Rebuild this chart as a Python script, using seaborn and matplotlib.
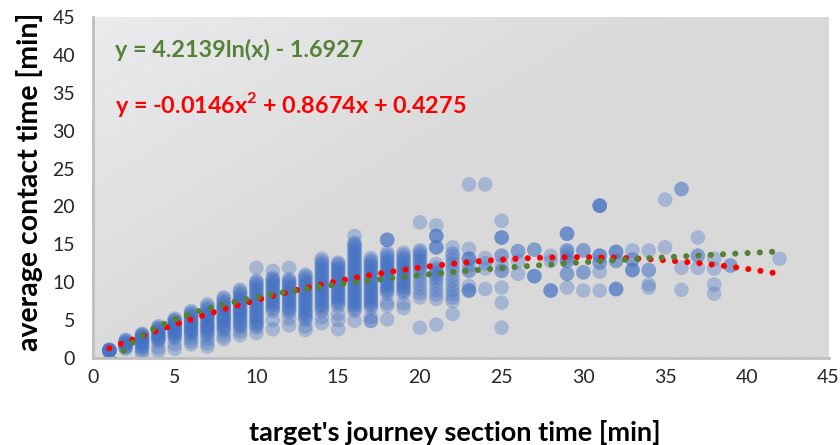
import numpy as np
import pandas as pd
import matplotlib
matplotlib.use("Agg")
import matplotlib.pyplot as plt
import seaborn as sns

# journey section time (x) and the contact times observed at each of them (y)
section_time = list(range(1, 40)) + [42]
contact_time = [
    [0.9, 1.0, 1.0, 1.0, 1.1, 1.1, 1.0, 0.9],
    [1.2, 1.4, 1.6, 1.8, 2.0, 2.2, 2.4, 1.5, 1.9, 2.3, 2.0],
    [0.6, 1.0, 1.3, 1.5, 1.7, 1.9, 2.1, 2.3, 2.5, 2.7, 2.9, 3.1, 3.2, 2.0, 2.6, 3.0],
    [0.9, 1.4, 2.2, 2.4, 2.6, 2.8, 3.0, 3.2, 3.4, 3.6, 3.8, 4.0, 4.2, 2.7, 3.3, 3.9],
    [1.2, 1.8, 2.6, 2.8, 3.0, 3.2, 3.4, 3.6, 3.8, 4.0, 4.2, 4.4, 4.6, 4.8, 5.0, 5.2,
     3.5, 4.3, 4.9],
    [1.8, 2.2, 2.6, 3.0, 3.3, 3.5, 3.8, 4.0, 4.3, 4.5, 4.8, 5.0, 5.3, 5.5, 5.8, 6.0,
     6.2, 3.6, 4.6, 5.6],
    [1.5, 2.0, 2.5, 3.0, 3.3, 3.5, 3.8, 4.0, 4.3, 4.5, 4.8, 5.0, 5.3, 5.5, 5.8, 6.0,
     6.3, 6.5, 6.8, 7.1, 4.2, 5.6],
    [2.5, 2.9, 3.5, 3.8, 4.0, 4.3, 4.5, 4.8, 5.0, 5.3, 5.5, 5.8, 6.0, 6.3, 6.5, 6.8,
     7.0, 7.3, 7.5, 7.8, 8.0, 5.2, 6.6],
    [3.0, 3.5, 4.0, 4.3, 4.5, 4.8, 5.0, 5.3, 5.5, 5.8, 6.0, 6.3, 6.5, 6.8, 7.0, 7.3,
     7.5, 7.8, 8.0, 8.3, 8.5, 8.8, 9.0, 6.2, 7.6],
    [3.3, 4.0, 4.3, 4.5, 4.8, 5.0, 5.3, 5.5, 5.8, 6.0, 6.3, 6.5, 6.8, 7.0, 7.3, 7.5,
     7.8, 8.0, 8.3, 8.5, 8.8, 9.0, 9.3, 9.5, 9.8, 10.0, 10.2, 11.9],
    [3.8, 5.0, 6.2, 6.5, 6.7, 7.0, 7.2, 7.5, 7.7, 8.0, 8.2, 8.5, 8.7, 9.0, 9.2, 9.5,
     9.7, 10.0, 10.2, 10.4, 10.6, 11.5],
    [4.3, 5.2, 6.0, 6.3, 6.5, 6.8, 7.0, 7.3, 7.5, 7.8, 8.0, 8.3, 8.5, 8.8, 9.0, 9.3,
     9.5, 9.8, 10.0, 10.2, 10.4, 11.9],
    [3.7, 4.2, 5.0, 5.3, 5.5, 5.8, 6.0, 6.3, 6.5, 6.8, 7.0, 7.3, 7.5, 7.8, 8.0, 8.3,
     8.5, 8.8, 9.0, 9.3, 9.5, 9.8, 10.0, 10.3, 10.5, 10.8, 11.0],
    [4.6, 5.4, 6.2, 6.5, 6.8, 7.0, 7.3, 7.5, 7.8, 8.0, 8.3, 8.5, 8.8, 9.0, 9.3, 9.5,
     9.8, 10.0, 10.3, 10.5, 10.8, 11.0, 11.3, 11.5, 11.8, 12.0, 12.3, 12.5, 12.8, 13.1],
    [3.8, 5.0, 5.8, 6.9, 7.2, 7.4, 7.7, 7.9, 8.2, 8.4, 8.7, 8.9, 9.2, 9.4, 9.7, 9.9,
     10.2, 10.4, 10.7, 10.9, 11.2, 11.4, 11.7, 11.9, 12.2, 12.4, 12.6],
    [4.9, 6.2, 6.5, 6.8, 7.0, 7.3, 7.5, 7.8, 8.0, 8.3, 8.5, 8.8, 9.0, 9.3, 9.5, 9.8,
     10.0, 10.3, 10.5, 10.8, 11.0, 11.3, 11.5, 11.8, 12.0, 12.3, 12.5, 12.8, 13.0,
     13.3, 13.5, 13.8, 14.0, 14.3, 14.5, 14.8, 15.0, 15.2, 16.1],
    [4.9, 4.9, 5.4, 6.6, 6.9, 7.1, 7.4, 7.6, 7.9, 8.1, 8.4, 8.6, 8.9, 9.1, 9.4, 9.6,
     9.9, 10.1, 10.4, 10.6, 10.9, 11.1, 11.4, 11.6, 11.9, 12.1, 12.4, 12.6, 12.9, 13.2],
    [5.1, 6.9, 7.3, 8.5, 8.8, 9.0, 9.3, 9.5, 9.8, 10.0, 10.3, 10.5, 10.8, 11.0, 11.3,
     11.5, 11.8, 12.0, 12.3, 12.5, 12.8, 13.0, 13.3, 13.6, 13.9, 15.6, 15.6, 15.6],
    [6.6, 7.2, 8.5, 8.8, 9.0, 9.3, 9.5, 9.8, 10.0, 10.3, 10.5, 10.8, 11.0, 11.3, 11.5,
     11.8, 12.0, 12.3, 12.5, 12.8, 13.0, 13.3, 13.6, 13.9],
    [4.0, 8.0, 8.6, 9.2, 9.8, 10.4, 11.0, 11.5, 11.9, 12.2, 12.5, 12.8, 13.1, 13.4,
     13.7, 14.0, 14.2, 17.9],
    [4.4, 7.8, 8.4, 9.0, 9.6, 10.2, 10.6, 11.0, 11.3, 11.6, 11.9, 12.4, 14.6, 14.6,
     14.6, 16.1, 16.1, 16.1, 17.5],
    [5.8, 7.5, 8.0, 8.5, 9.0, 9.6, 10.2, 10.8, 11.5, 12.0, 12.5, 13.0, 13.5, 13.8, 14.6],
    [8.9, 8.9, 8.9, 9.5, 11.5, 11.5, 12.2, 13.1, 13.1, 13.1, 14.4, 22.9],
    [9.1, 11.8, 12.5, 13.2, 22.9],
    [4.0, 7.3, 9.3, 11.5, 11.5, 12.3, 13.5, 13.5, 15.9, 15.9, 15.9, 18.1],
    [11.1, 12.8, 14.1, 14.1],
    [10.8, 10.8, 10.8, 14.3, 14.3],
    [8.9, 8.9, 8.9, 12.8, 13.5],
    [9.3, 11.1, 11.1, 12.8, 12.8, 13.3, 13.8, 14.2, 14.2, 16.4, 16.4, 16.4],
    [8.9, 11.3, 11.3, 14.2, 14.2],
    [8.9, 11.4, 12.6, 12.6, 13.5, 13.5, 13.5, 20.1, 20.1, 20.1, 20.1],
    [9.1, 9.1, 9.1, 12.8, 12.8, 14.0, 14.0, 14.0],
    [11.6, 11.6, 11.6, 13.0, 13.0, 14.2],
    [9.3, 9.7, 11.6, 11.6, 14.2],
    [14.6, 20.9],
    [9.0, 11.9, 22.3, 22.3],
    [11.9, 13.5, 13.5, 15.9],
    [8.5, 9.7, 11.8, 13.1],
    [12.2, 12.2],
    [13.1],
]

# Excel trendline coefficients printed on the chart
log_coef = [4.2139, -1.6927]
poly_coef = [-0.0146, 0.8674, 0.4275]
log_label = "y = 4.2139ln(x) - 1.6927"
poly_label = "y = -0.0146x$^{2}$ + 0.8674x + 0.4275"

df = pd.DataFrame({
    "x": [x for x, ys in zip(section_time, contact_time) for _ in ys],
    "y": [y for ys in contact_time for y in ys],
})

sns.set_theme(style="white")
plt.rcParams["font.family"] = ["Lato", "DejaVu Sans"]
plt.rcParams["mathtext.fontset"] = "custom"
plt.rcParams["mathtext.rm"] = "Lato:bold"

fig = plt.figure(figsize=(8.4, 4.45), dpi=100)
ax = fig.add_axes([0.1107, 0.1955, 0.8757, 0.7663])

# grey gradient plot area, lighter towards the top-left corner
gx, gy = np.meshgrid(np.linspace(0, 1, 200), np.linspace(1, 0, 120))
grad = np.clip(1 - ((gx * 1.2) + (1 - gy) * 0.9), 0, 1)
c0 = np.array([217, 217, 217]) / 255
c1 = np.array([234, 235, 237]) / 255
img = c0 + grad[..., None] * (c1 - c0)
ax.imshow(img, extent=[0, 1, 0, 1], transform=ax.transAxes, aspect="auto", zorder=0)

sns.scatterplot(data=df, x="x", y="y", ax=ax, color="#4472C4", alpha=0.34,
                s=110, edgecolor="none", zorder=2, legend=False)

xs = np.linspace(1, 42, 300)
y_log = log_coef[0] * np.log(xs) + log_coef[1]
y_poly = np.polyval(poly_coef, xs)
sns.lineplot(x=xs, y=y_poly, ax=ax, color="#FF0000", lw=4.4,
             linestyle=(0, (0.01, 2.0)), dash_capstyle="round", zorder=3)
sns.lineplot(x=xs, y=y_log, ax=ax, color="#548235", lw=4.4,
             linestyle=(0, (0.01, 2.0)), dash_capstyle="round", zorder=4)

ax.set_xlim(0, 45)
ax.set_ylim(0, 45)
ax.set_xticks(range(0, 46, 5))
ax.set_yticks(range(0, 46, 5))
ax.tick_params(length=0, labelsize=14, colors="#262626")
ax.tick_params(axis="y", pad=13)
ax.tick_params(axis="x", pad=8)
for side in ["top", "right"]:
    ax.spines[side].set_visible(False)
for side in ["left", "bottom"]:
    ax.spines[side].set_color("#BFBFBF")
    ax.spines[side].set_linewidth(2)
ax.set_xlabel("")
ax.set_ylabel("")

fig.text(0.542, 0.029, "target's journey section time [min]", ha="center",
         va="center", fontsize=19.5, fontweight="bold", color="black")
fig.text(0.035, 0.592, "average contact time [min]", ha="center", va="center",
         rotation=90, fontsize=20.5, fontweight="bold", color="black")

ax.text(0.03, 0.903, log_label, transform=ax.transAxes, fontsize=16.8,
        fontweight="bold", color="#548235", va="center")
ax.text(0.03, 0.742, poly_label, transform=ax.transAxes, fontsize=16.8,
        fontweight="bold", color="#FF0000", va="center")

fig.savefig("out.png", dpi=100)
